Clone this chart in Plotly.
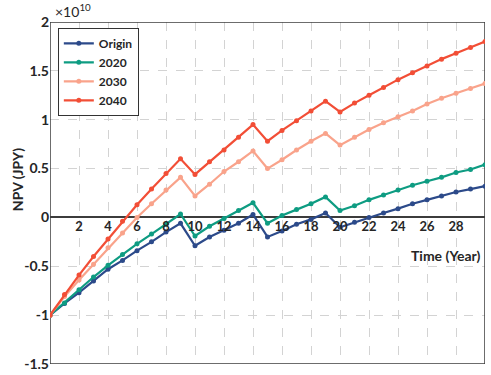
import plotly.graph_objects as go

years = list(range(0, 31))

origin = [-1.0, -0.88, -0.77, -0.65, -0.53, -0.44, -0.34, -0.25, -0.15, -0.06,
          -0.29, -0.20, -0.13, -0.06, 0.03, -0.20, -0.14, -0.07, -0.02, 0.045,
          -0.10, -0.05, 0.0, 0.045, 0.09, 0.14, 0.18, 0.22, 0.26, 0.29, 0.32]
s2020 = [-1.0, -0.875, -0.74, -0.61, -0.49, -0.38, -0.27, -0.17, -0.07, 0.035,
         -0.19, -0.09, -0.01, 0.07, 0.15, -0.06, 0.02, 0.08, 0.14, 0.21,
         0.07, 0.12, 0.18, 0.23, 0.28, 0.33, 0.37, 0.41, 0.46, 0.49, 0.54]
s2030 = [-1.0, -0.81, -0.64, -0.48, -0.31, -0.16, 0.0, 0.14, 0.28, 0.41,
         0.22, 0.34, 0.47, 0.57, 0.68, 0.50, 0.59, 0.69, 0.78, 0.86,
         0.74, 0.82, 0.90, 0.97, 1.03, 1.09, 1.16, 1.22, 1.27, 1.32, 1.37]
s2040 = [-1.0, -0.79, -0.59, -0.40, -0.22, -0.04, 0.13, 0.29, 0.45, 0.60,
         0.44, 0.57, 0.69, 0.82, 0.95, 0.78, 0.89, 0.99, 1.09, 1.19,
         1.08, 1.17, 1.25, 1.33, 1.41, 1.48, 1.55, 1.62, 1.68, 1.74, 1.80]

series_names = ["Origin", "2020", "2030", "2040"]
series_vals = [origin, s2020, s2030, s2040]
colors = ["#2C4A8A", "#0E9C82", "#F9A38B", "#F24E36"]

x_ticks = list(range(2, 30, 2))
x_ticklabels = [str(v) for v in x_ticks]
y_ticks = [-1.5, -1, -0.5, 0, 0.5, 1, 1.5, 2]
y_ticklabels = ["-1.5", "-1", "-0.5", "0", "0.5", "1", "1.5", "2"]

FONT = "Lato"
TXT = "#262626"
AX = "#3c3c3c"

xmin, xmax = 0, 30
ymin, ymax = -1.5, 2.0
zero_pos = (0 - ymin) / (ymax - ymin)

fig = go.Figure()
# plot-area frame, built from the axis ranges
fig.add_trace(go.Scatter(
    x=[xmin, xmax, xmax, xmin, xmin], y=[ymin, ymin, ymax, ymax, ymin],
    mode="lines", line=dict(color=AX, width=1.5), cliponaxis=False,
    showlegend=False, hoverinfo="skip"))
for name, vals, c in zip(series_names, series_vals, colors):
    fig.add_trace(go.Scatter(
        x=years, y=vals, name="<b>" + name + "</b>", mode="lines+markers",
        line=dict(color=c, width=2.2),
        marker=dict(color=c, size=5),
    ))

fig.update_layout(
    width=491, height=375,
    margin=dict(l=50, r=6, t=22, b=11),
    plot_bgcolor="white", paper_bgcolor="white",
    font=dict(family=FONT, color=TXT, size=13),
    xaxis=dict(
        range=[xmin, xmax], tickvals=x_ticks,
        ticktext=["<b>" + t + "</b>" for t in x_ticklabels],
        anchor="free", position=zero_pos,
        showgrid=True, gridcolor="#d3d3d3", griddash="dash", gridwidth=1,
        zeroline=False, automargin=False,
        tickfont=dict(family=FONT, size=13, color=TXT),
    ),
    yaxis=dict(
        range=[ymin, ymax], tickvals=y_ticks,
        ticktext=["<b>" + t + "</b>" for t in y_ticklabels],
        showgrid=True, gridcolor="#d3d3d3", griddash="dash", gridwidth=1,
        zeroline=True, zerolinecolor=AX, zerolinewidth=1.5,
        automargin=False,
        tickfont=dict(family=FONT, size=14, color=TXT),
    ),
    legend=dict(
        x=0.018, y=0.983, xanchor="left", yanchor="top",
        bgcolor="white", bordercolor="#333333", borderwidth=1,
        font=dict(family=FONT, size=12, color=TXT),
    ),
)

fig.add_annotation(text="<b>NPV (JPY)</b>", xref="paper", yref="paper",
                   x=-0.074, y=0.54, xanchor="center", yanchor="middle",
                   textangle=-90, showarrow=False,
                   font=dict(family=FONT, size=14, color=TXT))
fig.add_annotation(text="<b>Time (Year)</b>", xref="paper", yref="paper",
                   x=0.992, y=0.316, xanchor="right", yanchor="middle",
                   showarrow=False,
                   font=dict(family=FONT, size=14, color=TXT))
fig.add_annotation(text="×10<sup>10</sup>", xref="paper", yref="paper",
                   x=0.008, y=1.0, xanchor="left", yanchor="bottom",
                   showarrow=False,
                   font=dict(family=FONT, size=14, color=TXT))

fig.write_html("out.html",
               config={"displayModeBar": False},
               post_script="document.body.style.margin='0';")
